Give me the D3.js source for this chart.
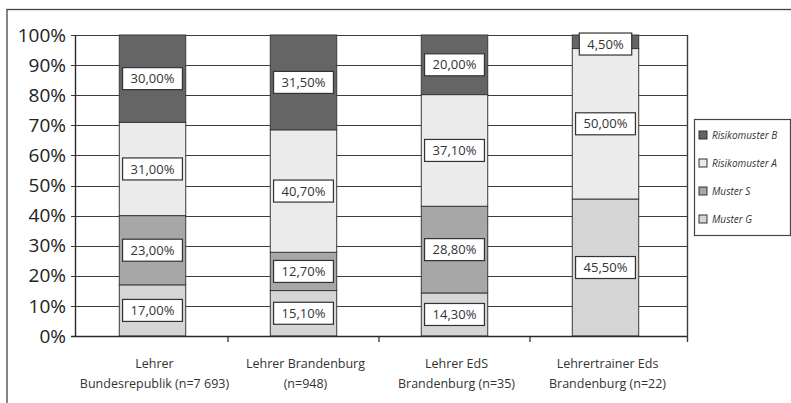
<!DOCTYPE html>
<html>
<head>
<meta charset="utf-8">
<script src="https://cdn.jsdelivr.net/npm/d3@7"></script>
<style>
  body { margin: 0; background: #fff; }
  svg { display: block; font-family: "Open Sans", sans-serif; }
</style>
</head>
<body>
<svg id="chart" width="791" height="403"></svg>
<script>
// categories (two lines each) and the four series, in percent
var categories = ["Lehrer Bundesrepublik (n=7 693)", "Lehrer Brandenburg (n=948)", "Lehrer EdS Brandenburg (n=35)", "Lehrertrainer Eds Brandenburg (n=22)"];
var catLines = [["Lehrer", "Bundesrepublik (n=7 693)"], ["Lehrer Brandenburg", "(n=948)"], ["Lehrer EdS", "Brandenburg (n=35)"], ["Lehrertrainer Eds", "Brandenburg (n=22)"]];
var musterG = [17.0, 15.1, 14.3, 45.5];
var musterS = [23.0, 12.7, 28.8, 0];
var risikoA = [31.0, 40.7, 37.1, 50.0];
var risikoB = [30.0, 31.5, 20.0, 4.5];
var yTicks = [0, 10, 20, 30, 40, 50, 60, 70, 80, 90, 100];

var keys = ["Muster G", "Muster S", "Risikomuster A", "Risikomuster B"];
var colors = { "Muster G": "#d5d5d5", "Muster S": "#a7a7a8", "Risikomuster A": "#ebebec", "Risikomuster B": "#656565" };

// build rows for d3.stack
var rows = categories.map(function (c, i) {
  return { cat: c, "Muster G": musterG[i], "Muster S": musterS[i], "Risikomuster A": risikoA[i], "Risikomuster B": risikoB[i] };
});
var series = d3.stack().keys(keys)(rows);

var svg = d3.select("#chart");
var margin = { left: 75, right: 104, top: 35, bottom: 67 };
var W = 791, H = 403;

// outer frame (runs off the right and bottom like the scan)
svg.append("rect")
  .attr("x", 7).attr("y", 9.5).attr("width", 800).attr("height", 420)
  .attr("fill", "none").attr("stroke", "#444").attr("stroke-width", 1.3);

var x = d3.scaleBand()
  .domain(categories)
  .range([margin.left + 2, W - margin.right - 6])
  .paddingInner(0.56)
  .paddingOuter(0.28);

var y = d3.scaleLinear()
  .domain([0, 100])
  .range([H - margin.bottom, margin.top])
  .clamp(true);

// gridlines
svg.append("g").selectAll("line")
  .data(yTicks)
  .enter().append("line")
  .attr("x1", margin.left - 4)
  .attr("x2", W - margin.right)
  .attr("y1", function (d) { return Math.round(y(d)) + 0.5; })
  .attr("y2", function (d) { return Math.round(y(d)) + 0.5; })
  .attr("stroke", "#3c3c3c")
  .attr("stroke-width", 1.2);

// plot frame left/right
svg.append("line")
  .attr("x1", margin.left + 0.5).attr("x2", margin.left + 0.5)
  .attr("y1", y(100)).attr("y2", y(0))
  .attr("stroke", "#2a2a2a").attr("stroke-width", 1.4);
svg.append("line")
  .attr("x1", W - margin.right + 0.5).attr("x2", W - margin.right + 0.5)
  .attr("y1", y(100)).attr("y2", y(0) + 6)
  .attr("stroke", "#3c3c3c").attr("stroke-width", 1.4);

// y labels
svg.append("g").selectAll("text")
  .data(yTicks)
  .enter().append("text")
  .attr("x", margin.left - 9)
  .attr("y", function (d) { return y(d); })
  .attr("dy", "0.35em")
  .attr("text-anchor", "end")
  .attr("font-size", 19)
  .attr("fill", "#222")
  .text(function (d) { return d + "%"; });

// category separator ticks (last one is the plot frame)
var step = x.step();
svg.append("g").selectAll("line")
  .data(categories.slice(0, 3))
  .enter().append("line")
  .attr("x1", function (d) { return x(d) + x.bandwidth() + (step - x.bandwidth()) / 2; })
  .attr("x2", function (d) { return x(d) + x.bandwidth() + (step - x.bandwidth()) / 2; })
  .attr("y1", y(0))
  .attr("y2", y(0) + 6)
  .attr("stroke", "#333")
  .attr("stroke-width", 1.3);

// bars
var layer = svg.append("g").selectAll("g")
  .data(series)
  .enter().append("g")
  .attr("fill", function (d) { return colors[d.key]; });

layer.selectAll("rect")
  .data(function (d) { return d; })
  .enter().append("rect")
  .filter(function (d) { return d[1] - d[0] > 0; })
  .attr("x", function (d) { return x(d.data.cat); })
  .attr("width", x.bandwidth())
  .attr("y", function (d) { return y(d[1]); })
  .attr("height", function (d) { return y(d[0]) - y(d[1]); })
  .attr("stroke", "#3a3a3a")
  .attr("stroke-width", 1);

// value labels
var fmt = function (v) { return v.toFixed(2).replace(".", ",") + "%"; };
var labels = [];
series.forEach(function (s) {
  s.forEach(function (d) {
    var v = d[1] - d[0];
    if (v > 0) {
      var mid = (d[0] + Math.min(d[1], 100)) / 2;
      labels.push({ cat: d.data.cat, mid: Math.min(mid, 97), text: fmt(v) });
    }
  });
});

var lab = svg.append("g").selectAll("g")
  .data(labels)
  .enter().append("g")
  .attr("transform", function (d) {
    return "translate(" + (x(d.cat) + x.bandwidth() / 2) + "," + y(d.mid) + ")";
  });
var box = lab.append("rect").attr("fill", "#fff").attr("stroke", "#333").attr("stroke-width", 1.2);
var txt = lab.append("text")
  .attr("text-anchor", "middle")
  .attr("dy", "0.36em")
  .attr("font-size", 13)
  .attr("fill", "#333")
  .text(function (d) { return d.text; });
txt.each(function (d) {
  var w = this.getComputedTextLength() + 16;
  d3.select(this.parentNode).select("rect")
    .attr("x", -w / 2).attr("y", -11).attr("width", w).attr("height", 22);
});

// x axis baseline
svg.append("line")
  .attr("x1", margin.left - 4).attr("x2", W - margin.right)
  .attr("y1", Math.round(y(0)) + 0.5).attr("y2", Math.round(y(0)) + 0.5)
  .attr("stroke", "#2a2a2a").attr("stroke-width", 1.4);

// category labels
var cl = svg.append("g").selectAll("text")
  .data(categories)
  .enter().append("text")
  .attr("text-anchor", "middle")
  .attr("font-size", 12.5)
  .attr("fill", "#333");
cl.each(function (d, i) {
  var t = d3.select(this);
  catLines[i].forEach(function (line, j) {
    t.append("tspan")
      .attr("x", x(d) + x.bandwidth() / 2 + 2)
      .attr("y", 368 + j * 20)
      .text(line);
  });
});

// legend
var legend = svg.append("g").attr("transform", "translate(694,119)");
legend.append("rect")
  .attr("x", 0.5).attr("y", 0.5).attr("width", 96).attr("height", 116)
  .attr("fill", "#fff").attr("stroke", "#444").attr("stroke-width", 1.2);
var legendKeys = keys.slice().reverse();
var li = legend.selectAll(".li")
  .data(legendKeys)
  .enter().append("g")
  .attr("class", "li")
  .attr("transform", function (d, i) { return "translate(5," + (16 + i * 28) + ")"; });
li.append("rect")
  .attr("x", 0).attr("y", -4).attr("width", 8).attr("height", 8)
  .attr("fill", function (d) { return colors[d]; })
  .attr("stroke", "#333").attr("stroke-width", 1);
li.append("text")
  .attr("x", 13)
  .attr("dy", "0.35em")
  .attr("font-size", 10)
  .attr("font-style", "italic")
  .attr("fill", "#333")
  .text(function (d) { return d; });
</script>
</body>
</html>
